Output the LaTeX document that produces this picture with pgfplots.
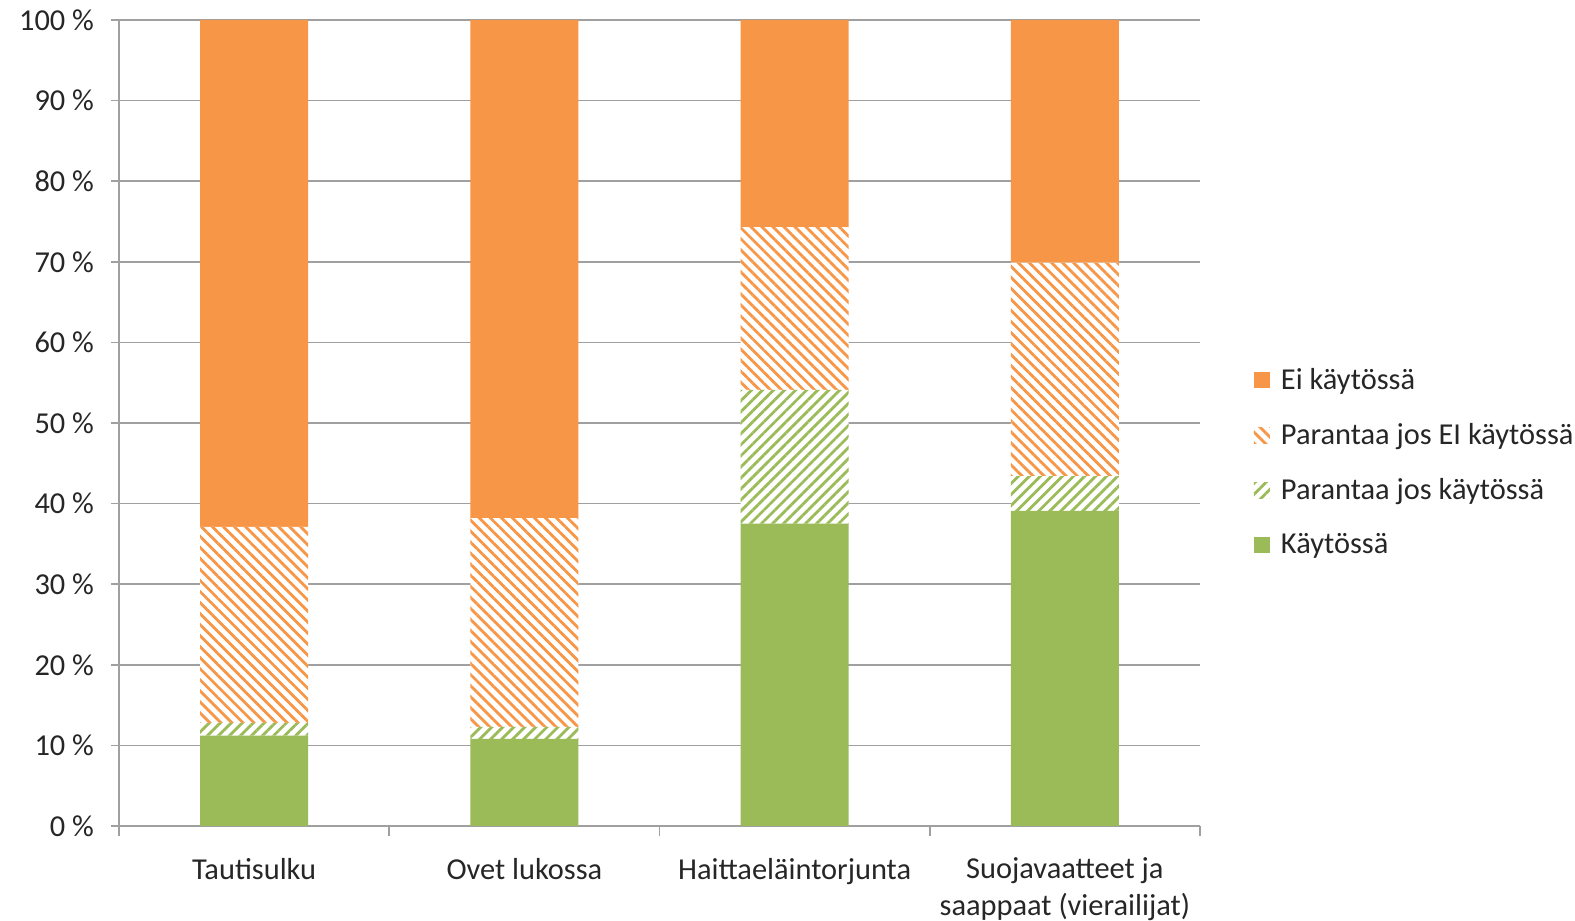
\documentclass[border=0pt]{standalone}
\usepackage{pgfplots}
\pgfplotsset{compat=1.18}
\usepackage{fontspec}
\setmainfont{Carlito}
\usetikzlibrary{patterns.meta}
\definecolor{xorange}{HTML}{F79646}
\definecolor{xgreen}{HTML}{9BBB59}
\definecolor{xgrid}{HTML}{A0A0A0}
\begin{document}
\begin{tikzpicture}
\begin{axis}[
  at={(0,0)}, anchor=south west,
  scale only axis,
  width=540.5pt, height=403pt,
  font=\fontsize{15.2}{18.5}\selectfont,
  ybar stacked,
  bar width=54pt,
  xmin=-0.5, xmax=3.5,
  ymin=0, ymax=100,
  ytick={0,10,...,100},
  yticklabel={\pgfmathprintnumber{\tick}\ \%},
  /pgf/number format/assume math mode=true,
  ymajorgrids,
  grid style={xgrid, line width=0.8pt},
  axis x line*=bottom, axis y line*=left,
  axis line style={xgrid, line width=0.8pt, -},
  tick style={xgrid, line width=0.8pt},
  tick align=outside,
  major tick length=4pt,
  yticklabel style={xshift=-5pt, text=black!85},
  xtick={0,1,2,3},
  xticklabels={Tautisulku, Ovet lukossa, Haittaeläintorjunta, {Suojavaatteet ja\\saappaat (vierailijat)}},
  xticklabel style={align=center, yshift=-8.5pt, text=black!85},
  x tick style={draw=none},
  extra x ticks={-0.5,0.5,1.5,2.5,3.5},
  extra x tick labels={},
  extra x tick style={x tick style={draw=xgrid}, major tick length=5pt},
  legend style={draw=none, fill=none, at={(1.044,0.451)}, anchor=west,
    row sep=11.5pt, font=\fontsize{15.2}{17.5}\selectfont, text=black!85,
    nodes={inner xsep=5.5pt},
    /tikz/every even column/.append style={column sep=0pt}},
  legend cell align=left,
  reverse legend,
  legend image code/.code={\path[#1, draw=none] (0pt,-4pt) rectangle (8pt,4pt);},
]
\addplot[fill=xgreen, draw=none] coordinates {(0,11.2) (1,10.8) (2,37.5) (3,39.1)};
\addlegendentry{Käytössä}
\addplot[fill=white, draw=none, postaction={pattern={Lines[angle=45,distance=3.9pt,line width=1.4pt]}, pattern color=xgreen}] coordinates {(0,1.6) (1,1.5) (2,16.6) (3,4.3)};
\addlegendentry{Parantaa jos käytössä}
\addplot[fill=white, draw=none, postaction={pattern={Lines[angle=-45,distance=3.9pt,line width=1.4pt]}, pattern color=xorange}] coordinates {(0,24.3) (1,25.9) (2,20.2) (3,26.5)};
\addlegendentry{Parantaa jos EI käytössä}
\addplot[fill=xorange, draw=none] coordinates {(0,62.9) (1,61.8) (2,25.7) (3,30.1)};
\addlegendentry{Ei käytössä}
\end{axis}
\pgfresetboundingbox
\path[use as bounding box] (-59.5pt,-47.5pt) rectangle (728pt,413pt);
\end{tikzpicture}
\end{document}
